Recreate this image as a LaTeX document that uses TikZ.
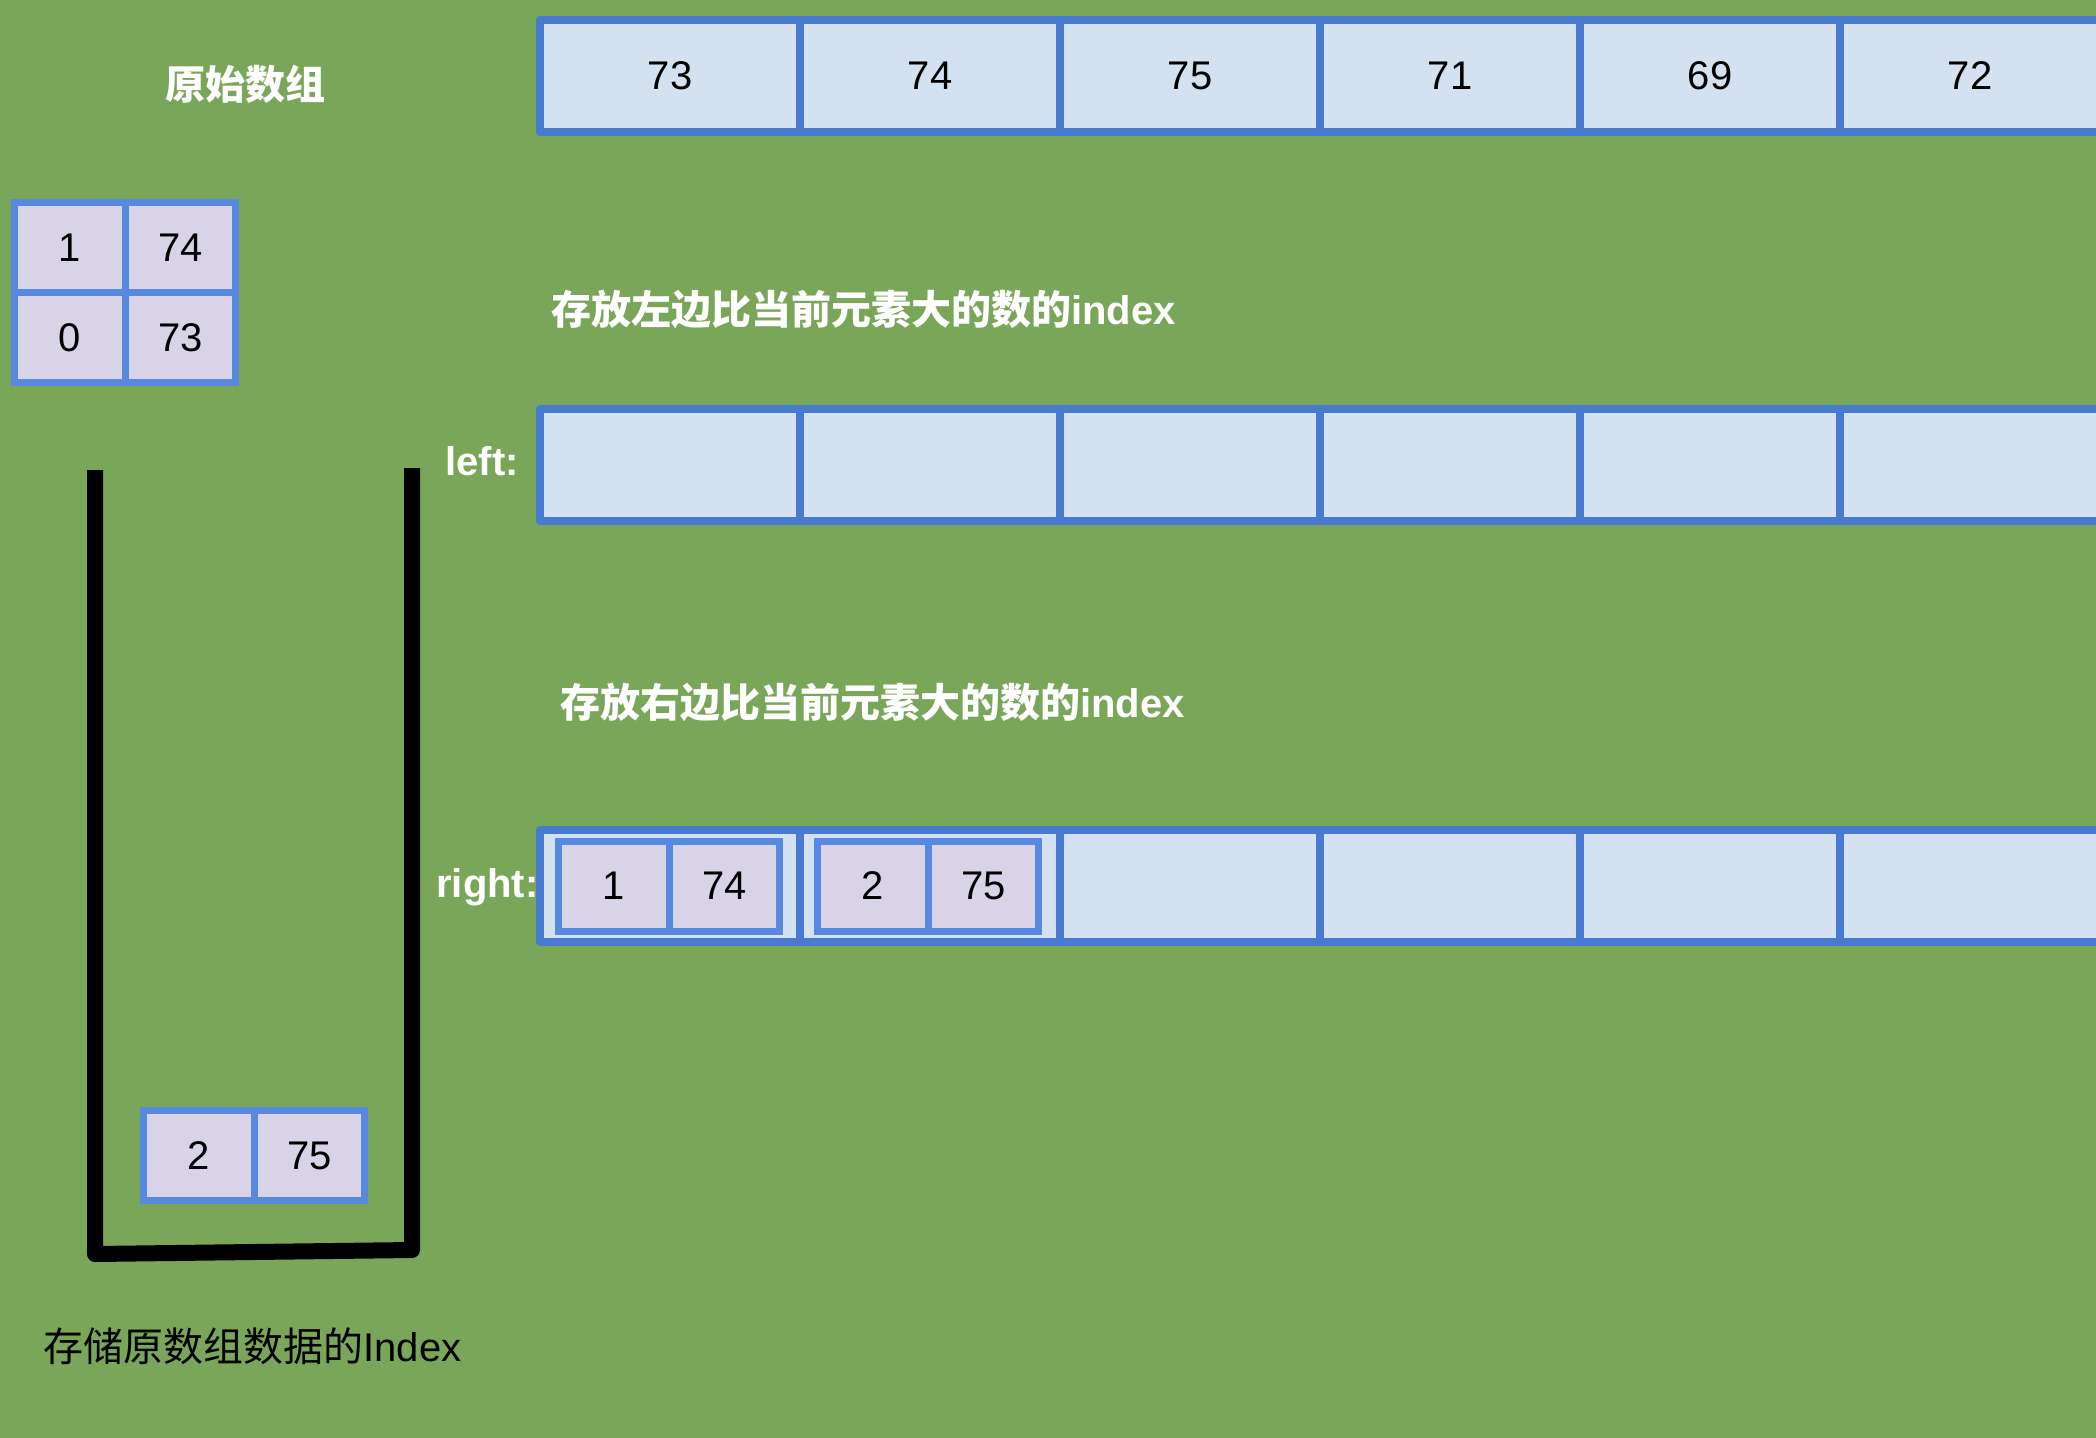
\documentclass[tikz,border=0pt]{standalone}
\usepackage{fontspec}
\setmainfont{Liberation Sans}
\newfontfamily\cjk{Noto Sans CJK SC}
\definecolor{bggreen}{RGB}{122,166,90}
\definecolor{arrline}{RGB}{72,122,208}
\definecolor{arrfill}{RGB}{212,225,241}
\definecolor{elemline}{RGB}{88,137,224}
\definecolor{elemfill}{RGB}{216,211,231}
\begin{document}
\begin{tikzpicture}[x=0.5pt,y=-0.5pt,
  arrcell/.style={draw=arrline, fill=arrfill, line width=4pt, line join=round,
    minimum width=130pt, minimum height=56pt, inner sep=0pt,
    font=\fontsize{20}{24}\selectfont, text=black},
  elemcell/.style={draw=elemline, fill=elemfill, line width=3.5pt,
    minimum width=55.25pt, minimum height=45pt, inner sep=0pt,
    font=\fontsize{20}{24}\selectfont, text=black},
  wlabel/.style={text=white, inner sep=0pt, font=\fontsize{20}{24}\selectfont\bfseries},
  blabel/.style={text=black, inner sep=0pt, font=\fontsize{20}{24}\selectfont}]
\fill[bggreen] (0,0) rectangle (2096,1438);
\useasboundingbox (0,0) rectangle (2096,1438);

% original array
\foreach \v [count=\i] in {73,74,75,71,69,72}
  \node[arrcell] (t\i) at (670+260*\i-260,76) {\v};
% left array
\foreach \i in {1,...,6}
  \node[arrcell] (l\i) at (670+260*\i-260,465) {};
% right array
\foreach \i in {1,...,6}
  \node[arrcell] (r\i) at (670+260*\i-260,886) {};

% elements inside right array
\node[elemcell] (ra1) at (614,886) {1};
\node[elemcell] (rb1) at (724.5,886) {74};
\node[elemcell] (ra2) at (873,886) {2};
\node[elemcell] (rb2) at (983.5,886) {75};

% popped elements (top-left)
\node[elemcell] (sa1) at (70,248) {1};
\node[elemcell] (sb1) at (180.5,248) {74};
\node[elemcell] (sa0) at (70,338) {0};
\node[elemcell] (sb0) at (180.5,338) {73};

% stack container
\draw[line width=8pt, line join=round] (95,470) -- (95,1254) -- (412,1250) -- (412,468);
\node[elemcell] (ka) at (199,1155.5) {2};
\node[elemcell] (kb) at (309.5,1155.5) {75};

% labels
\node[wlabel] (title) at (245,84) {\cjk 原始数组};
\node[wlabel, anchor=base west] (lefttxt) at (551,325) {{\cjk 存放左边比当前元素大的数的}index};
\node[wlabel, anchor=base west] (righttxt) at (560,717) {{\cjk 存放右边比当前元素大的数的}index};
\node[wlabel, anchor=base west] (leftlab) at (445,475) {left:};
\node[wlabel, anchor=base west] (rightlab) at (436,897) {right:};
\node[blabel, anchor=base west] (stacklab) at (43,1361) {{\cjk 存储原数组数据的}Index};
\end{tikzpicture}
\end{document}
